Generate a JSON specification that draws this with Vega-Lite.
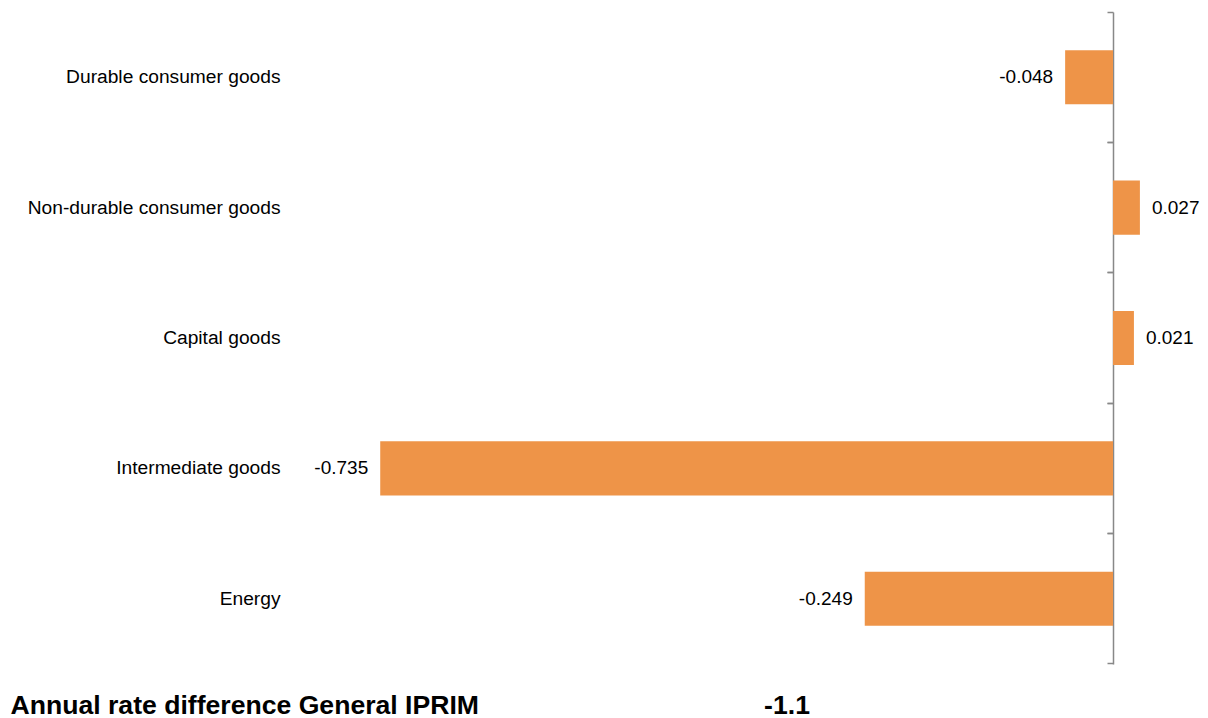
{
  "$schema": "https://vega.github.io/schema/vega-lite/v6.json",
  "width": 918,
  "height": 652,
  "autosize": "none",
  "padding": {"left": 290, "top": 12, "right": 0, "bottom": 54},
  "background": "white",
  "config": {
    "font": "Liberation Sans",
    "view": {"stroke": null},
    "locale": {"number": {"decimal": ".", "thousands": ",", "grouping": [3], "currency": ["$", ""], "minus": "-"}}
  },
  "data": {
    "values": [
      {"category": "Durable consumer goods", "value": -0.048},
      {"category": "Non-durable consumer goods", "value": 0.027},
      {"category": "Capital goods", "value": 0.021},
      {"category": "Intermediate goods", "value": -0.735},
      {"category": "Energy", "value": -0.249}
    ]
  },
  "encoding": {
    "y": {
      "field": "category",
      "type": "nominal",
      "sort": null,
      "scale": {"paddingInner": 0.585, "paddingOuter": 0.2925}
    },
    "x": {
      "field": "value",
      "type": "quantitative",
      "scale": {"domain": [-0.8255, 0.0953], "nice": false, "zero": false}
    }
  },
  "layer": [
    {
      "mark": {"type": "bar", "color": "#EE9448"},
      "encoding": {
        "y": {
          "field": "category",
          "type": "nominal",
          "sort": null,
          "axis": {
            "title": null,
            "domain": false,
            "ticks": false,
            "labelPadding": 10,
            "labelFontSize": 19.2,
            "labelColor": "black",
            "labelLimit": 400
          }
        },
        "x": {
          "field": "value",
          "type": "quantitative",
          "axis": {
            "orient": "bottom",
            "labels": false,
            "ticks": false,
            "domain": false,
            "grid": false,
            "title": "Annual rate difference General IPRIM",
            "titleX": -280,
            "titleY": 49,
            "titleAlign": "left",
            "titleBaseline": "alphabetic",
            "titleAnchor": null,
            "titleFontSize": 26.6,
            "titleFontWeight": "bold",
            "titleColor": "black"
          }
        }
      }
    },
    {
      "transform": [{"filter": "datum.value < 0"}],
      "mark": {"type": "text", "align": "right", "baseline": "middle", "dx": -12, "fontSize": 19, "color": "black"},
      "encoding": {
        "text": {"field": "value", "type": "quantitative", "format": ".3f"},
        "x": {"field": "value", "type": "quantitative", "axis": null},
        "y": {
          "field": "category",
          "type": "nominal",
          "sort": null,
          "axis": {
            "orient": "left",
            "offset": -823,
            "labels": false,
            "title": null,
            "domain": true,
            "domainColor": "#888888",
            "domainWidth": 1.5,
            "ticks": true,
            "bandPosition": -0.7048,
            "tickSize": 6,
            "tickColor": "#888888",
            "tickWidth": 1.5,
            "grid": false
          }
        }
      }
    },
    {
      "transform": [{"filter": "datum.value >= 0"}],
      "mark": {"type": "text", "align": "left", "baseline": "middle", "dx": 12, "fontSize": 19, "color": "black"},
      "encoding": {
        "text": {"field": "value", "type": "quantitative", "format": ".3f"},
        "x": {
          "field": "value",
          "type": "quantitative",
          "axis": {
            "orient": "bottom",
            "labels": false,
            "ticks": false,
            "domain": false,
            "grid": false,
            "title": "-1.1",
            "titleX": 496.5,
            "titleY": 49,
            "titleAlign": "center",
            "titleBaseline": "alphabetic",
            "titleAnchor": null,
            "titleFontSize": 26.6,
            "titleFontWeight": "bold",
            "titleColor": "black"
          }
        },
        "y": {
          "field": "category",
          "type": "nominal",
          "sort": null,
          "axis": {
            "orient": "left",
            "offset": -823,
            "labels": false,
            "title": null,
            "domain": false,
            "ticks": true,
            "bandPosition": 1.7048,
            "tickSize": 6,
            "tickColor": "#888888",
            "tickWidth": 1.5,
            "grid": false
          }
        }
      }
    }
  ],
  "resolve": {"axis": {"y": "independent", "x": "independent"}}
}
